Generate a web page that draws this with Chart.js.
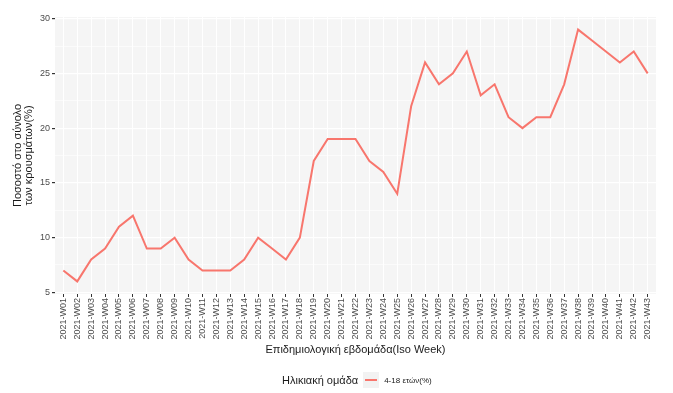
<!DOCTYPE html>
<html>
<head>
<meta charset="utf-8">
<script src="https://cdn.jsdelivr.net/npm/chart.js@4.4.1/dist/chart.umd.min.js"></script>
<style>
  html, body { margin: 0; padding: 0; background: #fff; }
  #wrap { position: relative; width: 673px; height: 393px; }
  #legend {
    position: absolute; left: 282px; top: 372px; height: 16px;
    display: flex; align-items: center;
    font-family: "Liberation Sans", Arial, sans-serif; color: #1a1a1a;
  }
  #legend .ttl { font-size: 11px; margin-right: 5px; }
  #legend .key { width: 16px; height: 16px; background: #f2f2f2; position: relative; margin-right: 5px; }
  #legend .key div { position: absolute; left: 2px; right: 2px; top: 7px; height: 2px; background: #F8766D; }
  #legend .lbl { font-size: 8px; }
</style>
</head>
<body>
<div id="wrap">
  <canvas id="c" width="673" height="393"></canvas>
  <div id="legend"><span class="ttl">Ηλικιακή ομάδα</span><div class="key"><div></div></div><span class="lbl">4-18 ετών(%)</span></div>
</div>
<script>
// weekly share of cases, age group 4-18
const WEEKS = [
  "2021-W01","2021-W02","2021-W03","2021-W04","2021-W05","2021-W06","2021-W07","2021-W08","2021-W09","2021-W10",
  "2021-W11","2021-W12","2021-W13","2021-W14","2021-W15","2021-W16","2021-W17","2021-W18","2021-W19","2021-W20",
  "2021-W21","2021-W22","2021-W23","2021-W24","2021-W25","2021-W26","2021-W27","2021-W28","2021-W29","2021-W30",
  "2021-W31","2021-W32","2021-W33","2021-W34","2021-W35","2021-W36","2021-W37","2021-W38","2021-W39","2021-W40",
  "2021-W41","2021-W42","2021-W43"
];
const PCT_4_18 = [
  7, 6, 8, 9, 11, 12, 9, 9, 10, 8,
  7, 7, 7, 8, 10, 9, 8, 10, 17, 19,
  19, 19, 17, 16, 14, 22, 26, 24, 25, 27,
  23, 24, 21, 20, 21, 21, 24, 29, 28, 27,
  26, 27, 25
];
const Y_TICKS = [5, 7.5, 10, 12.5, 15, 17.5, 20, 22.5, 25, 27.5, 30];

const FONT = "'Liberation Sans', Arial, sans-serif";
const AXIS_TXT = "#4d4d4d";

const panelBg = {
  id: "panelBg",
  beforeDraw(chart) {
    const { ctx, chartArea: a } = chart;
    ctx.save();
    ctx.fillStyle = "#f5f5f5";
    ctx.fillRect(a.left, a.top, a.right - a.left, a.bottom - a.top);
    ctx.restore();
  }
};

const isMajor = v => Math.abs(v % 5) < 1e-6;

new Chart(document.getElementById("c"), {
  type: "line",
  data: {
    datasets: [{
      label: "4-18 ετών(%)",
      data: PCT_4_18.map((v, i) => ({ x: i, y: v })),
      borderColor: "#F8766D",
      borderWidth: 2,
      pointRadius: 0,
      tension: 0,
    }],
  },
  options: {
    responsive: false,
    animation: false,
    layout: { padding: { top: 17, right: 17, left: 12, bottom: 36 } },
    plugins: { legend: { display: false }, tooltip: { enabled: false } },
    scales: {
      x: {
        type: "linear",
        min: -0.6, max: WEEKS.length - 1 + 0.6,
        afterBuildTicks: s => { s.ticks = WEEKS.map((_, i) => ({ value: i })); },
        afterFit: s => { s.height = 63; },
        border: { display: false },
        grid: { color: "#ffffff", lineWidth: 1, tickColor: "#333333", tickLength: 3, drawTicks: true },
        ticks: {
          autoSkip: false, minRotation: 90, maxRotation: 90, padding: 1,
          font: { family: FONT, size: 9 }, color: AXIS_TXT,
          callback: v => WEEKS[v] ?? "",
        },
        title: {
          display: true, text: "Επιδημιολογική εβδομάδα(Iso Week)",
          font: { family: FONT, size: 11 }, color: "#1a1a1a", padding: { top: 0, bottom: 0 },
        },
      },
      y: {
        min: 4.85, max: 30.15,
        afterBuildTicks: s => { s.ticks = Y_TICKS.map(v => ({ value: v })); },
        afterFit: s => { s.width = 43; },
        border: { display: false },
        grid: {
          color: "#ffffff",
          lineWidth: c => (isMajor(c.tick.value) ? 1.2 : 0.6),
          tickColor: c => (isMajor(c.tick.value) ? "#333333" : "rgba(0,0,0,0)"),
          tickLength: 3,
        },
        ticks: {
          padding: 2,
          font: { family: FONT, size: 9 }, color: AXIS_TXT,
          callback: v => (isMajor(v) ? String(v) : ""),
        },
        title: {
          display: true, text: ["Ποσοστό στο σύνολο", "των κρουσμάτων(%)"],
          font: { family: FONT, size: 11, lineHeight: 1.05 }, color: "#1a1a1a", padding: { top: 0, bottom: 4 },
        },
      },
    },
  },
  plugins: [panelBg],
});
</script>
</body>
</html>
